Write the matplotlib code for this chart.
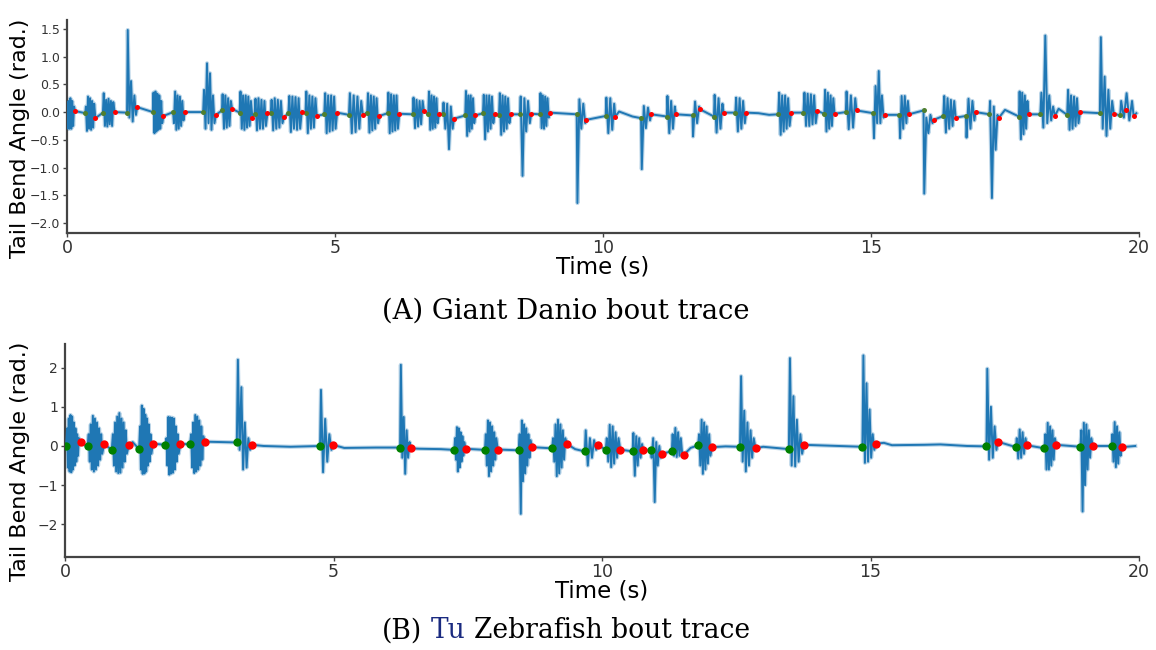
import numpy as np
import matplotlib
matplotlib.use("Agg")
import matplotlib.pyplot as plt

# ---------------- Panel A: Giant Danio ----------------
a_bout_start = [0.00, 0.34, 0.67, 1.12, 1.60, 1.98, 2.54, 2.89, 3.22, 3.50,
                3.80, 4.13, 4.45, 4.80, 5.26, 5.60, 5.98, 6.45, 6.74, 7.01,
                7.43, 7.76, 8.06, 8.45, 8.82, 9.51, 10.05, 10.71, 11.19, 11.67,
                12.07, 12.47, 13.27, 13.74, 14.13, 14.53, 15.04, 15.53, 15.98, 16.35,
                16.77, 17.21, 17.76, 18.16, 18.66, 19.27, 19.65]
a_start_val = [0.0, -0.02, -0.01, -0.01, 0.0, 0.0, 0.0, 0.03, -0.01, -0.03,
               -0.02, -0.02, -0.01, -0.04, -0.05, -0.01, -0.02, -0.04, -0.03, -0.03,
               -0.06, -0.02, -0.05, -0.04, -0.04, -0.04, -0.07, -0.11, -0.08, -0.06,
               -0.08, -0.01, -0.04, -0.01, -0.03, 0.0, -0.02, -0.05, 0.03, -0.07,
               -0.07, -0.04, -0.08, -0.04, -0.05, -0.02, -0.06]
a_bout_end = [0.15, 0.53, 0.89, 1.31, 1.80, 2.20, 2.78, 3.08, 3.46, 3.74,
              4.05, 4.38, 4.66, 5.04, 5.52, 5.83, 6.20, 6.66, 6.94, 7.22,
              7.62, 7.98, 8.28, 8.66, 9.01, 9.69, 10.23, 10.90, 11.36, 11.81,
              12.25, 12.67, 13.51, 14.00, 14.32, 14.73, 15.26, 15.71, 16.17, 16.58,
              16.95, 17.38, 17.94, 18.43, 18.90, 19.53, 19.90]
a_end_val = [0.02, -0.11, 0.0, 0.09, -0.07, 0.0, -0.05, 0.06, -0.11, -0.02,
             -0.09, 0.01, -0.07, -0.01, -0.05, -0.07, -0.03, 0.02, -0.03, -0.12,
             -0.06, -0.03, -0.04, -0.03, -0.01, -0.14, -0.08, -0.04, -0.04, 0.05,
             -0.01, -0.01, -0.01, 0.02, -0.03, 0.03, -0.05, -0.04, -0.14, -0.10,
             0.0, -0.11, -0.04, -0.07, 0.0, -0.03, -0.07]
a_peaks = [
    [-0.3, 0.2, -0.3, 0.25, -0.3, 0.2, -0.25, 0.1],
    [0.1, -0.34, 0.28, -0.3, 0.25, -0.32, 0.2, -0.28, 0.15],
    [0.34, -0.25, 0.22, -0.26, 0.24, -0.22, 0.2, -0.25, 0.18],
    [1.48, -0.1, 0.56, -0.17, 0.3, -0.05],
    [0.35, -0.38, 0.37, -0.35, 0.33, -0.32, 0.3, -0.3, 0.2, -0.2],
    [-0.2, 0.37, -0.32, 0.3, -0.3, 0.28, -0.25, 0.2, -0.15],
    [0.4, -0.3, 0.88, -0.2, 0.7, -0.32, 0.3, -0.2],
    [0.32, -0.3, 0.3, -0.28, 0.25, -0.25, 0.2],
    [0.37, -0.3, 0.3, -0.32, 0.3, -0.28, 0.28, -0.25, 0.2],
    [0.24, -0.33, 0.25, -0.3, 0.22, -0.3, 0.2, -0.25],
    [0.22, -0.33, 0.25, -0.3, 0.22, -0.28, 0.2, -0.2],
    [0.29, -0.36, 0.28, -0.3, 0.27, -0.32, 0.25, -0.3],
    [0.37, -0.38, 0.3, -0.3, 0.28, -0.28, 0.25],
    [0.34, -0.38, 0.3, -0.35, 0.3, -0.33, 0.28, -0.3],
    [0.34, -0.38, 0.3, -0.36, 0.28, -0.3, 0.2],
    [0.34, -0.37, 0.3, -0.33, 0.28, -0.3, 0.25, -0.2],
    [0.35, -0.38, 0.32, -0.35, 0.3, -0.33, 0.3, -0.3],
    [0.26, -0.29, 0.22, -0.26, 0.2, -0.22, 0.2],
    [0.37, -0.32, 0.3, -0.3, 0.28, -0.28, 0.25, -0.2],
    [0.17, -0.3, 0.15, -0.67, 0.1, -0.3],
    [0.38, -0.43, 0.3, -0.35, 0.3, -0.3, 0.25, -0.2],
    [0.31, -0.49, 0.3, -0.35, 0.3, -0.3, 0.28, -0.2],
    [0.34, -0.41, 0.3, -0.35, 0.28, -0.3, 0.25, -0.2],
    [0.28, -1.15, 0.25, -0.35, 0.2, -0.2],
    [0.34, -0.29, 0.3, -0.3, 0.28, -0.25, 0.25, -0.1],
    [-1.64, 0.23, -0.3, 0.15, -0.2],
    [0.26, -0.38, 0.25, -0.32, 0.15],
    [-1.03, 0.11, -0.29, 0.08, -0.15],
    [0.29, -0.38, 0.2, -0.3, 0.1],
    [-0.44, 0.19, -0.2, 0.1],
    [0.31, -0.37, 0.25, -0.3, 0.15],
    [0.26, -0.35, 0.25, -0.3, 0.2, -0.2],
    [0.35, -0.41, 0.3, -0.35, 0.3, -0.3, 0.25, -0.25],
    [0.35, -0.25, 0.33, -0.25, 0.32, -0.22, 0.3, -0.2],
    [0.4, -0.35, 0.35, -0.3, 0.3, -0.25, 0.25],
    [0.37, -0.31, 0.3, -0.28, 0.25],
    [-0.47, 0.47, -0.2, 0.74, -0.2, 0.3, -0.1],
    [-0.47, 0.29, -0.3, 0.29, -0.2, 0.2],
    [-1.47, -0.1, -0.38, -0.05, -0.2],
    [0.29, -0.37, 0.25, -0.3, 0.22, -0.25, 0.2],
    [-0.46, 0.24, -0.3, 0.2, -0.15],
    [0.2, -1.55, 0.1, -0.68, -0.05],
    [0.37, -0.49, 0.35, -0.4, 0.3, -0.3, 0.2],
    [0.35, -0.28, 1.38, -0.2, 0.3, -0.15, 0.1],
    [0.4, -0.32, 0.3, -0.3, 0.28, -0.25, 0.25, -0.2],
    [1.35, -0.3, 0.64, -0.43, 0.4, -0.3, 0.2],
    [0.2, -0.1, 0.34, -0.15, 0.2],
]
a_rest_t = [10.30, 10.55, 12.90, 13.10, 17.50, 18.50, 19.95]
a_rest_v = [0.01, -0.08, -0.02, -0.05, 0.04, 0.06, -0.02]
a_extra_red_t = [19.75]
a_extra_red_v = [0.03]

# ---------------- Panel B: Tu Zebrafish ----------------
b_bout_start = [0.02, 0.42, 0.87, 1.38, 1.87, 2.33, 3.20, 4.75, 6.24, 7.25,
                7.82, 8.45, 9.07, 9.68, 10.07, 10.57, 10.91, 11.30, 11.79, 12.57,
                13.48, 14.85, 17.16, 17.71, 18.24, 18.91, 19.49]
b_start_val = [0.0, -0.01, -0.10, -0.08, 0.03, 0.04, 0.09, 0.0, -0.04, -0.10,
               -0.10, -0.11, -0.06, -0.14, -0.09, -0.14, -0.11, -0.13, 0.02, -0.02,
               -0.08, -0.02, -0.01, -0.03, -0.06, -0.02, 0.0]
b_bout_end = [0.29, 0.73, 1.19, 1.64, 2.15, 2.61, 3.48, 4.99, 6.44, 7.46,
              8.06, 8.70, 9.35, 9.92, 10.34, 10.77, 11.12, 11.52, 12.05, 12.86,
              13.76, 15.10, 17.37, 17.91, 18.46, 19.14, 19.68]
b_end_val = [0.09, 0.05, 0.02, 0.06, 0.06, 0.11, 0.03, 0.03, -0.06, -0.07,
             -0.09, -0.03, 0.05, 0.02, -0.09, -0.11, -0.20, -0.23, -0.03, -0.06,
             0.03, 0.06, 0.11, 0.02, 0.03, 0.0, -0.03]
b_peaks = [
    [0.45, -0.55, 0.7, -0.65, 0.79, -0.67, 0.75, -0.6, 0.6, -0.5, 0.45, -0.4, 0.3, -0.25, 0.2],
    [0.3, -0.4, 0.55, -0.6, 0.77, -0.65, 0.7, -0.6, 0.6, -0.5, 0.45, -0.35, 0.3, -0.2],
    [0.3, -0.5, 0.6, -0.65, 0.75, -0.69, 0.84, -0.68, 0.7, -0.55, 0.6, -0.4, 0.4, -0.2],
    [0.5, -0.6, 1.03, -0.71, 0.95, -0.7, 0.8, -0.65, 0.7, -0.5, 0.55, -0.4, 0.3, -0.2],
    [0.2, -0.5, 0.74, -0.73, 0.73, -0.7, 0.72, -0.68, 0.7, -0.6, 0.5, -0.4, 0.3, -0.2],
    [0.3, -0.55, 0.6, -0.69, 0.79, -0.65, 0.75, -0.6, 0.65, -0.5, 0.5, -0.35, 0.25],
    [2.2, -0.1, 1.5, -0.6, 0.6, -0.55, 0.2, -0.1],
    [1.43, -0.67, 0.69, -0.4, 0.3, -0.1],
    [2.07, -0.3, 0.74, -0.71, 0.4, -0.3, 0.1],
    [0.2, -0.35, 0.48, -0.65, 0.45, -0.55, 0.35, -0.4, 0.25, -0.25, 0.1],
    [0.3, -0.5, 0.65, -0.77, 0.6, -0.65, 0.5, -0.5, 0.35, -0.35, 0.2],
    [0.3, -1.73, 0.65, -0.9, 0.55, -0.7, 0.45, -0.5, 0.3, -0.3, 0.15],
    [0.2, -0.4, 0.55, -0.77, 0.67, -0.7, 0.55, -0.55, 0.4, -0.35, 0.2],
    [0.4, -0.5, 0.2, -0.3, 0.15, -0.1],
    [0.2, -0.4, 0.54, -0.54, 0.5, -0.45, 0.35, -0.3, 0.2],
    [0.33, -0.76, 0.25, -0.5, 0.2, -0.3, 0.05],
    [-0.3, 0.2, -1.43, 0.1, -0.5, 0.0, -0.3],
    [0.3, -0.25, 0.46, -0.28, 0.35, -0.25, 0.2, -0.2],
    [0.3, -0.5, 0.67, -0.71, 0.6, -0.6, 0.5, -0.45, 0.3, -0.25],
    [1.78, -0.4, 0.9, -0.65, 0.6, -0.5, 0.4, -0.3, 0.2],
    [2.24, -0.5, 1.27, -0.52, 0.67, -0.4, 0.3, -0.2],
    [2.31, -0.43, 1.6, -0.4, 0.93, -0.3, 0.3, -0.1],
    [1.97, -0.35, 1.0, -0.3, 0.5, -0.1],
    [0.2, -0.32, 0.42, -0.3, 0.35, -0.2, 0.2],
    [0.3, -0.6, 0.59, -0.6, 0.5, -0.5, 0.4, -0.35, 0.2],
    [0.4, -1.67, 0.59, -1.0, 0.55, -0.6, 0.4, -0.3, 0.2],
    [0.3, -0.4, 0.61, -0.54, 0.5, -0.45, 0.35, -0.25],
]
b_rest_t = [0.0, 1.26, 3.70, 4.20, 5.20, 5.80, 6.60, 7.00, 9.50, 11.65, 12.30,
            13.00, 15.25, 15.40, 16.00, 16.30, 16.80, 19.93]
b_rest_v = [0.0, 0.10, 0.0, -0.02, -0.05, -0.04, -0.07, -0.08, -0.08, -0.05, -0.01,
            -0.02, 0.08, 0.02, 0.03, 0.04, 0.0, 0.0]

x_ticks = [0, 5, 10, 15, 20]
a_yticks = [1.5, 1.0, 0.5, 0.0, -0.5, -1.0, -1.5, -2.0]
b_yticks = [2, 1, 0, -1, -2]

LINE = "#1f77b4"


def build_trace(starts, svals, ends, evals, peaks, rest_t, rest_v):
    ts, vs = list(rest_t), list(rest_v)
    for s, sv, e, ev, pk in zip(starts, svals, ends, evals, peaks):
        d = e - s
        inner = np.linspace(s + 0.07 * d, e - 0.12 * d, len(pk))
        ts += [s, *inner, e]
        vs += [sv, *pk, ev]
    order = np.argsort(ts, kind="stable")
    return np.asarray(ts)[order], np.asarray(vs)[order]


W, H = 1156, 650
fig = plt.figure(figsize=(W / 100, H / 100), dpi=100)


def px_axes(l, t, r, b):
    return fig.add_axes([l / W, 1 - b / H, (r - l) / W, (b - t) / H])


axA = px_axes(67, 20, 1139, 233)
axB = px_axes(65, 344, 1139, 557)

# Panel A
tA, vA = build_trace(a_bout_start, a_start_val, a_bout_end, a_end_val, a_peaks,
                     a_rest_t, a_rest_v)
axA.plot(tA, vA, color=LINE, lw=3.0, alpha=0.3, zorder=2)
axA.plot(tA, vA, color=LINE, lw=1.4, zorder=3)
axA.plot(a_bout_start[1:], a_start_val[1:], "o", color="#4f7f2f", ms=3.6, mew=0, zorder=4)
axA.plot(a_bout_end + a_extra_red_t, a_end_val + a_extra_red_v, "o", color="red",
         ms=3.6, mew=0, zorder=4)
axA.set_ylim(-2.18, 1.66)
axA.set_yticks(a_yticks)
axA.set_yticklabels([f"{v:.1f}".replace("-", "\u2212") for v in a_yticks])

# Panel B
tB, vB = build_trace(b_bout_start, b_start_val, b_bout_end, b_end_val, b_peaks,
                     b_rest_t, b_rest_v)
axB.plot(tB, vB, color=LINE, lw=3.0, alpha=0.3, zorder=2)
axB.plot(tB, vB, color=LINE, lw=1.4, zorder=3)
axB.plot(b_bout_start, b_start_val, "o", color="#008000", ms=6, mew=0, zorder=4)
axB.plot(b_bout_end, b_end_val, "o", color="#ff0000", ms=6, mew=0, zorder=4)
axB.set_ylim(-2.83, 2.6)
axB.set_yticks(b_yticks)

for ax, ysize in ((axA, 9), (axB, 10)):
    ax.set_xlim(0, 20)
    ax.set_xticks(x_ticks)
    for side in ("top", "right"):
        ax.spines[side].set_visible(False)
    for side in ("left", "bottom"):
        ax.spines[side].set_color("#444444")
        ax.spines[side].set_linewidth(1.6)
    ax.tick_params(axis="y", labelsize=ysize, colors="#444444", labelcolor="#333333",
                   length=3, width=1, pad=2)
    ax.tick_params(axis="x", labelsize=12.5, colors="#444444", labelcolor="#333333",
                   length=3, width=1, pad=1)
    ax.set_xlabel("Time (s)", fontsize=16.5, labelpad=-1, color="black")

# y labels
for ycen in (138, 461):
    fig.text(20 / W, 1 - ycen / H, "Tail Bend Angle (rad.)", rotation=90,
             ha="center", va="center", fontsize=16, color="black")

# captions
renderer = fig.canvas.get_renderer()
SERIF = ["DejaVu Serif"]


def width_of(s, size):
    t = fig.text(0, 0, s, fontsize=size, family=SERIF)
    w = t.get_window_extent(renderer).width
    t.remove()
    return w


def caption(parts, xc, yc, target_w):
    full = "".join(p for p, _ in parts)
    size = 20 * target_w / width_of(full, 20)
    total = width_of(full, size)
    x0 = xc - total / 2
    prefix = ""
    for p, col in parts:
        prefix += p
        core = p.strip()
        if not core:
            continue
        pos = x0 + width_of(prefix.rstrip(), size) - width_of(core, size)
        fig.text(pos / W, 1 - yc / H, core, fontsize=size, family=SERIF,
                 color=col, ha="left", va="center")


caption([("(A) Giant Danio bout trace", "black")], 566, 311, 366)
caption([("(B) ", "black"), ("Tu", "#1a2a80"), (" Zebrafish bout trace", "black")],
        566, 631, 367)

fig.savefig("out.png", dpi=100)
